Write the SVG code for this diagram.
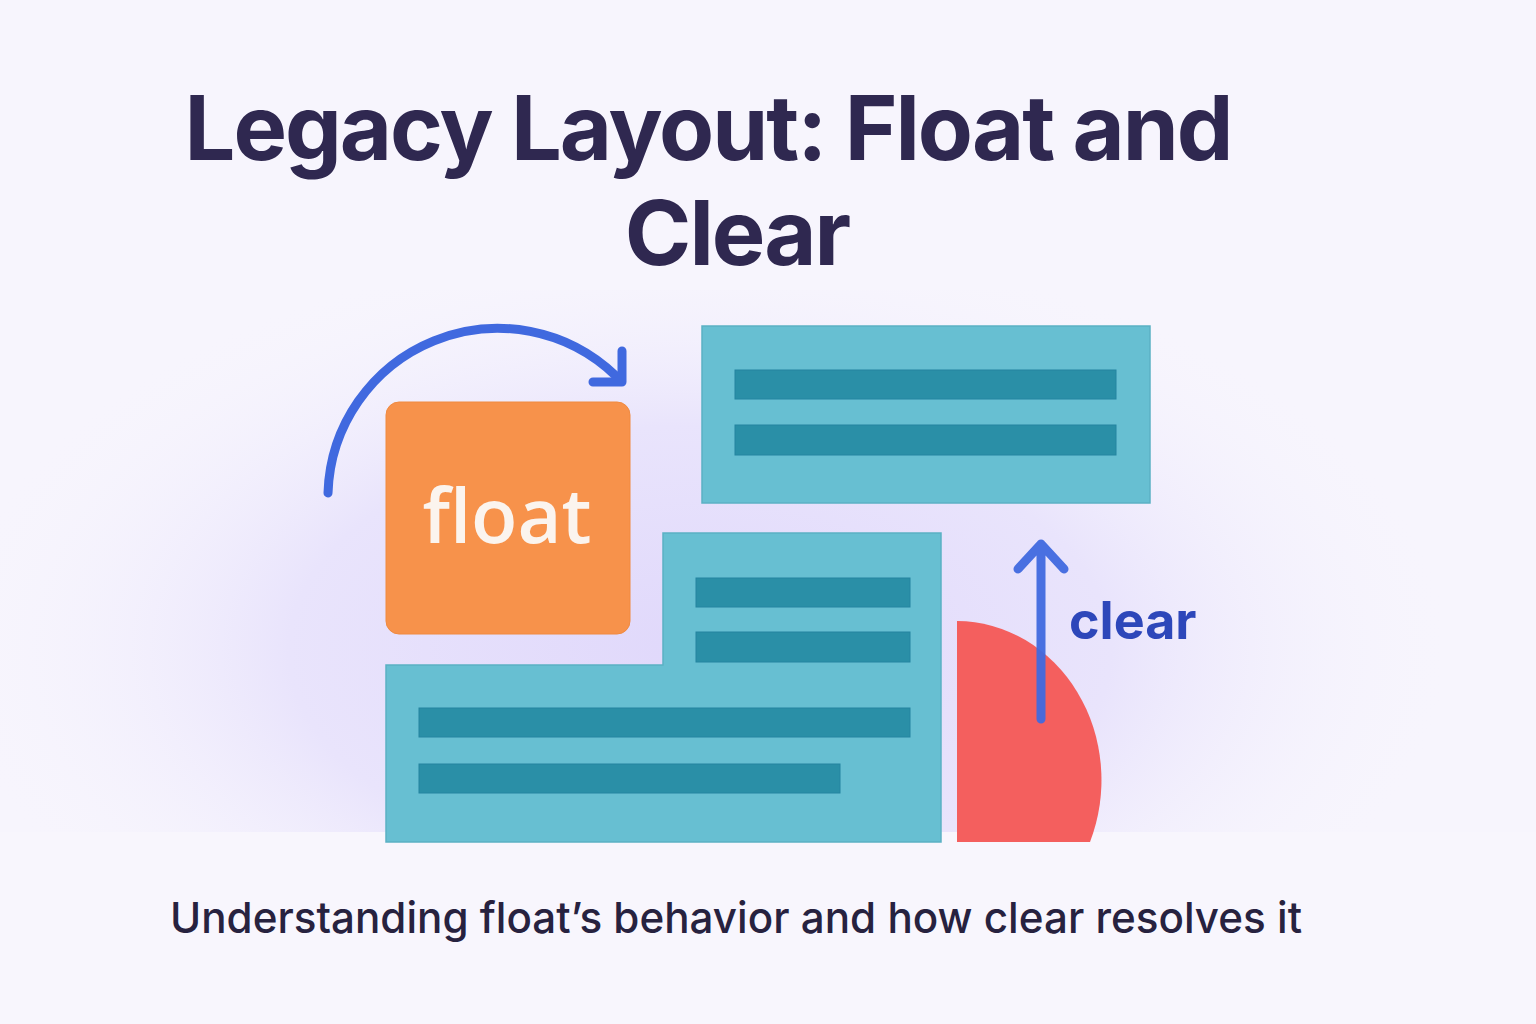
<svg xmlns="http://www.w3.org/2000/svg" width="1536" height="1024" viewBox="0 0 1536 1024">
  <defs>
    <radialGradient id="glow" cx="700" cy="650" r="680" gradientUnits="userSpaceOnUse" gradientTransform="translate(700 650) scale(1.1 0.6) translate(-700 -650)">
      <stop offset="0" stop-color="#e0d8fb"/>
      <stop offset="0.55" stop-color="#e9e4fc"/>
      <stop offset="1" stop-color="#f6f4fd" stop-opacity="0"/>
    </radialGradient>
  </defs>
  <style>
    .title { font-family: Inter, "Liberation Sans", sans-serif; font-weight: 700; font-size: 90px; letter-spacing: -2px; fill: #2f2850; }
    .sub { font-family: Inter, "Liberation Sans", sans-serif; font-weight: 500; font-size: 43px; fill: #27223f; }
    .teal { fill: #67bfd2; stroke: #5bb1c4; stroke-width: 1.5; }
    .bar { fill: #2a8fa7; stroke: #2584a0; stroke-width: 1; }
    .arrow { fill: none; stroke: #4069df; stroke-width: 9; stroke-linecap: round; stroke-linejoin: round; }
  </style>
  <rect width="1536" height="1024" fill="#f7f5fd"/>
  <rect x="0" y="290" width="1536" height="542" fill="url(#glow)"/>
  <rect x="0" y="832" width="1536" height="192" fill="#f8f6fd"/>

  <g id="title">
    <text class="title" x="708" y="160" text-anchor="middle">Legacy Layout: Float and</text>
    <text class="title" x="737" y="265" text-anchor="middle">Clear</text>
  </g>

  <g id="float-box">
    <rect x="386" y="402" width="244" height="232" rx="13" fill="#f7924b" stroke="#f08a40" stroke-width="1"/>
    <text x="507" y="543" text-anchor="middle" font-family="'Open Sans', 'Noto Sans', sans-serif" font-weight="600" font-size="76" fill="#fbf4ee">float</text>
  </g>

  <g id="top-block">
    <rect class="teal" x="702" y="326" width="448" height="177"/>
    <rect class="bar" x="735" y="370" width="381" height="29"/>
    <rect class="bar" x="735" y="425" width="381" height="30"/>
  </g>

  <g id="bottom-block">
    <path class="teal" d="M663 533 H941 V842 H386 V665 H663 Z"/>
    <rect class="bar" x="696" y="578" width="214" height="29"/>
    <rect class="bar" x="696" y="632" width="214" height="30"/>
    <rect class="bar" x="419" y="708" width="491" height="29"/>
    <rect class="bar" x="419" y="764" width="421" height="29"/>
  </g>

  <g id="cleared-shape">
    <path d="M957 842 V621 A145 159 0 0 1 1090 842 Z" fill="#f45f5e"/>
  </g>

  <g id="connectors">
    <path class="arrow" d="M328 493 A170 170 0 0 1 616 376"/>
    <path class="arrow" d="M622 351 V382 H593"/>
    <path class="arrow" d="M1041 719 V544 M1018 569 L1041 544 L1064 569" stroke-opacity="0.95"/>
  </g>

  <g id="clear-label">
    <text x="1069" y="639" font-family="Inter, 'Liberation Sans', sans-serif" font-weight="700" font-size="52" fill="#2d47ba">clear</text>
  </g>

  <g id="subtitle">
    <text class="sub" x="170" y="933" textLength="1132" lengthAdjust="spacingAndGlyphs">Understanding float’s behavior and how clear resolves it</text>
  </g>
</svg>
